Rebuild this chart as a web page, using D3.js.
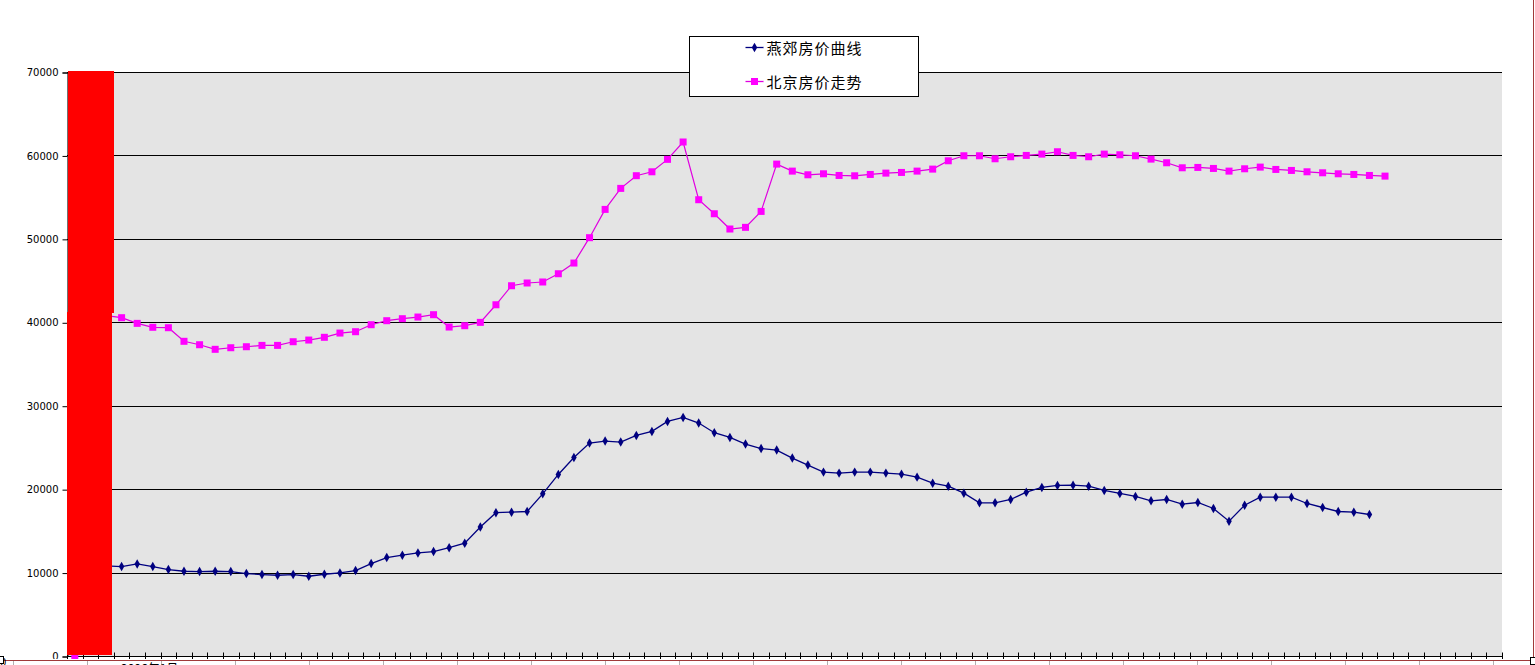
<!DOCTYPE html>
<html>
<head>
  <meta charset="UTF-8">
  <style>
    body {
      margin: 0;
      background-color: white;
      overflow: hidden;
    }

    .axis text {
      font-family: "DejaVu Sans", Verdana, sans-serif;
      font-size: 10px;
      fill: black;
    }

    .legend text {
      font-family: "Noto Sans CJK SC", sans-serif;
      font-size: 15px;
      letter-spacing: 1px;
      fill: black;
    }
  </style>
</head>
<body>

<svg></svg>
<script src="https://d3js.org/d3.v7.min.js"></script>

<script>
let width = 1535, height = 665; // Canvas size

// Data (one value per month, the first ones hidden under the red block)
let categoryCount = 92;
let categories = d3.range(categoryCount);
let seriesNames = ["燕郊房价曲线", "北京房价走势"];
let yTicks = [0, 10000, 20000, 30000, 40000, 50000, 60000, 70000];

let yanjiaoPrices = [
  10900, 10900, 10800, 10720, 11040, 10720, 10360, 10160, 10120, 10160,
  10120, 9880, 9760, 9680, 9760, 9560, 9800, 9960, 10240, 11080,
  11800, 12080, 12360, 12520, 12980, 13520, 15460, 17180, 17240, 17320,
  19440, 21760, 23800, 25520, 25760, 25640, 26440, 26920, 28120, 28600,
  27920, 26760, 26200, 25400, 24860, 24680, 23720, 22880, 22040, 21920,
  22040, 22040, 21920, 21800, 21440, 20720, 20360, 19520, 18360, 18360,
  18760, 19640, 20200, 20440, 20480, 20360, 19840, 19480, 19120, 18600,
  18760, 18200, 18400, 17680, 16160, 18080, 19040, 19040, 19040, 18280,
  17800, 17320, 17240, 16960
];

let beijingPrices = [
  0, 41000, 40800, 40550, 39870, 39400, 39350, 37720, 37310, 36760,
  36950, 37070, 37230, 37230, 37670, 37870, 38200, 38710, 38870, 39710,
  40190, 40430, 40630, 40910, 39430, 39590, 39990, 42100, 44380, 44710,
  44830, 45820, 47100, 50140, 53530, 56050, 57570, 58040, 59530, 61610,
  54690, 53010, 51180, 51380, 53290, 58960, 58120, 57680, 57800, 57600,
  57560, 57720, 57880, 57960, 58120, 58360, 59360, 59960, 59960, 59600,
  59840, 60000, 60160, 60440, 60000, 59840, 60160, 60080, 59960, 59560,
  59120, 58520, 58560, 58440, 58120, 58400, 58600, 58320, 58200, 58040,
  57920, 57800, 57720, 57600, 57520
];

let svg = d3.select("svg")
    .attr("width", width)
    .attr("height", height)
    .style("display", "block");

let plotLeft = 67, plotRight = 1502, plotTop = 72, plotBottom = 656;

let x = d3.scaleBand()
    .domain(categories)
    .range([plotLeft, plotRight]);

let y = d3.scaleLinear()
    .domain([0, 70000])
    .range([plotBottom, plotTop]);

let cx = i => x(i) + x.bandwidth() / 2;

// Grey plot area
svg.append("rect")
    .attr("x", plotLeft)
    .attr("y", plotTop)
    .attr("width", plotRight - plotLeft)
    .attr("height", plotBottom - plotTop)
    .attr("fill", "#e4e4e4");

// Horizontal gridlines
svg.append("g")
    .selectAll("line")
    .data(yTicks.slice(1))
    .enter()
    .append("line")
    .attr("x1", plotLeft)
    .attr("x2", plotRight)
    .attr("y1", d => Math.round(y(d)) + 0.5)
    .attr("y2", d => Math.round(y(d)) + 0.5)
    .attr("stroke", "black")
    .attr("stroke-width", 1);

// Y axis
let yAxis = svg.append("g")
    .attr("class", "axis")
    .attr("transform", "translate(" + (plotLeft + 0.5) + ",0.5)")
    .call(d3.axisLeft(y).tickValues(yTicks).tickFormat(d3.format("d")).tickSize(5).tickPadding(4));
yAxis.selectAll("line, path").attr("stroke", "black");

// X axis: cross ticks at category boundaries, no labels
let xAxis = svg.append("g")
    .attr("transform", "translate(0," + (plotBottom + 0.5) + ")");
xAxis.append("line")
    .attr("x1", plotLeft)
    .attr("x2", plotRight)
    .attr("stroke", "black");
xAxis.selectAll("line.tick")
    .data(d3.range(categoryCount + 1))
    .enter()
    .append("line")
    .attr("class", "tick")
    .attr("x1", i => Math.round(plotLeft + i * x.step()) + 0.5)
    .attr("x2", i => Math.round(plotLeft + i * x.step()) + 0.5)
    .attr("y1", -4)
    .attr("y2", 4)
    .attr("stroke", "black");

// Lines
let line = d3.line()
    .x((d, i) => cx(i))
    .y(d => y(d));

svg.append("path")
    .datum(yanjiaoPrices)
    .attr("d", line)
    .attr("fill", "none")
    .attr("stroke", "#000080")
    .attr("stroke-width", 1.3);

svg.append("g")
    .selectAll("path")
    .data(yanjiaoPrices)
    .enter()
    .append("path")
    .attr("transform", (d, i) => "translate(" + cx(i) + "," + y(d) + ")")
    .attr("d", d3.symbol(d3.symbolDiamond, 26))
    .attr("fill", "#000080");

svg.append("path")
    .datum(beijingPrices)
    .attr("d", line)
    .attr("fill", "none")
    .attr("stroke", "#e000e0")
    .attr("stroke-width", 1.2);

svg.append("g")
    .selectAll("rect")
    .data(beijingPrices)
    .enter()
    .append("rect")
    .attr("x", (d, i) => cx(i) - 3.5)
    .attr("y", d => y(d) - 3.5)
    .attr("width", 7)
    .attr("height", 7)
    .attr("fill", "#ff00ff");

// Red block pasted over the first months (two slightly shifted pieces)
let splitY = Math.round(y(41200));
svg.append("rect")
    .attr("x", plotLeft + 1)
    .attr("y", plotTop - 1)
    .attr("width", x(3) - plotLeft - 1)
    .attr("height", splitY - plotTop + 2)
    .attr("fill", "#ff0000")
    .attr("shape-rendering", "crispEdges");
svg.append("rect")
    .attr("x", plotLeft - 0.5)
    .attr("y", splitY)
    .attr("width", x(3) - plotLeft - 1.5)
    .attr("height", plotBottom - 1 - splitY)
    .attr("fill", "#ff0000")
    .attr("shape-rendering", "crispEdges");

// Legend
let legend = svg.append("g")
    .attr("class", "legend")
    .attr("transform", "translate(689.5, 36.5)");

legend.append("rect")
    .attr("width", 229)
    .attr("height", 60)
    .attr("fill", "white")
    .attr("stroke", "black")
    .attr("stroke-width", 1);

let legendRows = [
  { name: seriesNames[0], color: "#000080", y: 11 },
  { name: seriesNames[1], color: "#e000e0", y: 45 }
];

legendRows.forEach((r, i) => {
  legend.append("line")
      .attr("x1", 56)
      .attr("x2", 74)
      .attr("y1", r.y)
      .attr("y2", r.y)
      .attr("stroke", r.color)
      .attr("stroke-width", 1.3);
  if (i == 0) {
    legend.append("path")
        .attr("transform", "translate(65," + r.y + ")")
        .attr("d", d3.symbol(d3.symbolDiamond, 26))
        .attr("fill", "#000080");
  } else {
    legend.append("rect")
        .attr("x", 61.5)
        .attr("y", r.y - 3.5)
        .attr("width", 7)
        .attr("height", 7)
        .attr("fill", "#ff00ff");
  }
  legend.append("text")
      .attr("x", 77)
      .attr("y", r.y + 1)
      .attr("dy", "0.35em")
      .text(r.name);
});

// Spreadsheet strip below the chart (cut-off cells and selection frame)
svg.append("rect")
    .attr("x", 0)
    .attr("y", 659)
    .attr("width", width)
    .attr("height", height - 659)
    .attr("fill", "white");

svg.append("g")
    .selectAll("line")
    .data(d3.range(21))
    .enter()
    .append("line")
    .attr("x1", i => 13.5 + i * 74)
    .attr("x2", i => 13.5 + i * 74)
    .attr("y1", 661)
    .attr("y2", height)
    .attr("stroke", "#b0b0b0");

svg.append("text")
    .attr("x", 121)
    .attr("y", 673)
    .style("font-family", "\"Noto Sans CJK SC\", sans-serif")
    .style("font-size", "12px")
    .text("2006年1月");

svg.append("line")
    .attr("x1", 0)
    .attr("x2", width)
    .attr("y1", 660.5)
    .attr("y2", 660.5)
    .attr("stroke", "#a03a3a");

svg.append("line")
    .attr("x1", 1533.5)
    .attr("x2", 1533.5)
    .attr("y1", 0)
    .attr("y2", 660)
    .attr("stroke", "#a03a3a");

svg.append("text")
    .attr("x", 0)
    .attr("y", 666)
    .style("font-family", "\"DejaVu Sans\", sans-serif")
    .style("font-size", "10px")
    .text("0");

[[-2, 656], [1530, 657]].forEach(p => {
  svg.append("rect")
      .attr("x", p[0] + 0.5)
      .attr("y", p[1] + 0.5)
      .attr("width", 5)
      .attr("height", 7)
      .attr("fill", "white")
      .attr("stroke", "black");
});
</script>

</body>
</html>
